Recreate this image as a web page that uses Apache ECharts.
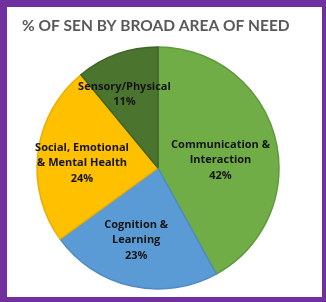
<!DOCTYPE html>
<html>
<head>
<meta charset="utf-8">
<script src="https://cdn.jsdelivr.net/npm/echarts@6/dist/echarts.min.js"></script>
<style>
  html, body { margin: 0; padding: 0; }
  #chart { width: 326px; height: 302px; }
</style>
</head>
<body>
<div id="chart"></div>
<script>
// share of SEN pupils, clockwise from 12 o'clock
var needNames = ['Communication &\nInteraction', 'Cognition &\nLearning', 'Social, Emotional\n& Mental Health', 'Sensory/Physical'];
var needShares = [42, 23, 24, 11];
var fillColors = ['#70AD47', '#5B9BD5', '#FFC000', '#4B742E'];
var edgeColors = ['#5F9A3A', '#4E8BC4', '#E8AE00', '#3F6427'];
// nudges to match the hand-placed labels
var labelNudge = [[1, 8], [-8, 10], [-13, 3], [-12, -14]];

var chart = echarts.init(document.getElementById('chart'));

var data = [];
for (var i = 0; i < needNames.length; i++) {
    data.push({
        name: needNames[i],
        value: needShares[i],
        itemStyle: { color: fillColors[i], borderColor: edgeColors[i] },
        label: { offset: labelNudge[i] }
    });
}

var option = {
    backgroundColor: '#7030A0',
    animation: false,
    graphic: [{
        type: 'rect',
        z: -10,
        shape: { x: 7, y: 7, width: 315, height: 290 },
        style: { fill: '#ffffff' }
    }],
    title: {
        text: '% OF SEN BY BROAD AREA OF NEED',
        left: 17,
        top: 13,
        textStyle: {
            fontFamily: 'Lato',
            fontWeight: 'bold',
            fontSize: 15.5,
            color: '#595959'
        }
    },
    series: [{
        type: 'pie',
        center: [158, 168],
        radius: 121,
        startAngle: 90,
        clockwise: true,
        silent: true,
        itemStyle: { borderWidth: 1.5 },
        label: {
            position: 'inside',
            formatter: '{b}\n{c}%',
            fontFamily: 'Open Sans',
            fontWeight: 'bold',
            fontSize: 11,
            lineHeight: 15.5,
            color: '#141414',
            align: 'center'
        },
        labelLine: { show: false },
        data: data
    }]
};

chart.setOption(option);
</script>
</body>
</html>
